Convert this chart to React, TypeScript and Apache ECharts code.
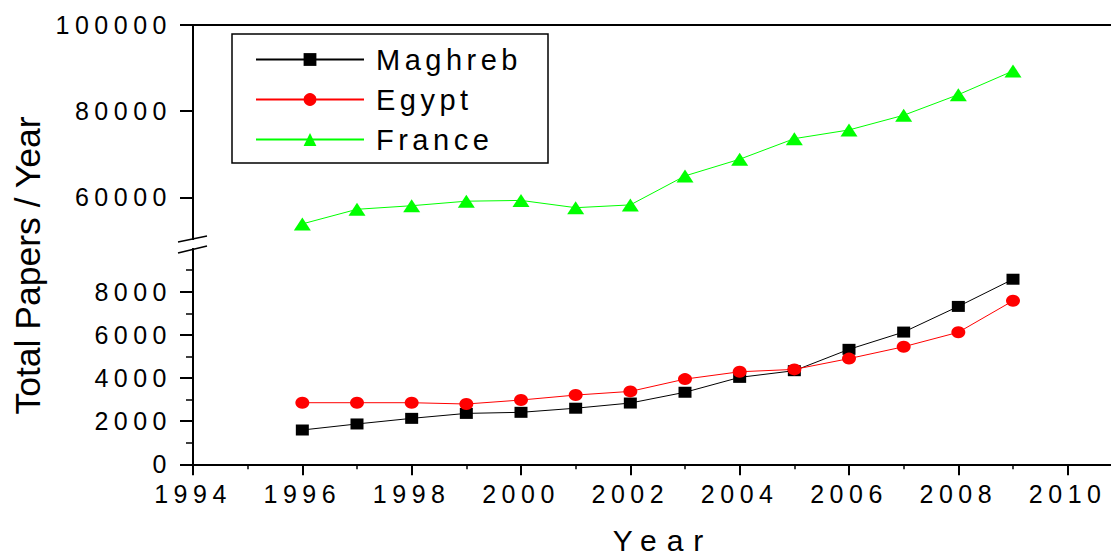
import React, { useEffect, useRef } from 'react';
import * as echarts from 'echarts';

const FONT = '"Liberation Sans", Arial, Helvetica, sans-serif';

const years = [1996, 1997, 1998, 1999, 2000, 2001, 2002, 2003, 2004, 2005, 2006, 2007, 2008, 2009];
const maghreb = [1590, 1870, 2130, 2360, 2410, 2600, 2840, 3340, 4030, 4340, 5330, 6130, 7320, 8580];
const egypt = [2855, 2855, 2855, 2795, 2980, 3210, 3380, 3950, 4290, 4400, 4900, 5450, 6120, 7580];
const france = [53830, 57220, 58050, 59100, 59280, 57590, 58240, 64970, 68840, 73620, 75640, 79050, 83830, 89330];

const seriesNames = ['Maghreb', 'Egypt', 'France'];
const xLabelValues = [1994, 1996, 1998, 2000, 2002, 2004, 2006, 2008, 2010];
const topMajorTicks = [60000, 80000, 100000];
const topMinorTicks = [70000, 90000];
const bottomMajorTicks = [0, 2000, 4000, 6000, 8000];
const xTitle = 'Year';
const yTitle = 'Total Papers / Year';

const css = `
#chartbox text[style*="25px"] { letter-spacing: 5.5px; }
#chartbox text[style*="29px"] { letter-spacing: 4.5px; }
#chartbox text[style*="30px"] { letter-spacing: 10px; }
`;

export default function App() {
  const ref = useRef<HTMLDivElement>(null);
  useEffect(() => {
    const chart = echarts.init(ref.current!, null, { renderer: 'svg' });
    const label = { color: '#000', fontSize: 25, fontFamily: FONT };
    const axisLine = { show: true, lineStyle: { color: '#000', width: 2 } };
    const pair = (vals: number[]) => years.map((y, i) => [y, vals[i]]);
    chart.setOption({
      animation: false,
      backgroundColor: '#fff',
      grid: [
        { left: 193, top: 25, width: 984, height: 215.4, containLabel: false, outerBoundsMode: 'none' },
        { left: 193, top: 248.6, width: 984, height: 215.7, containLabel: false, outerBoundsMode: 'none' },
      ],
      xAxis: [
        {
          type: 'value', gridIndex: 0, min: 1994, max: 2012, interval: 2, position: 'top',
          axisLine, axisTick: { show: false }, axisLabel: { show: false }, splitLine: { show: false },
        },
        {
          type: 'value', gridIndex: 1, min: 1994, max: 2012, interval: 2, position: 'bottom',
          axisLine,
          axisTick: { show: true, length: 11, lineStyle: { color: '#000', width: 2 } },
          minorTick: { show: true, splitNumber: 2, length: 5, lineStyle: { color: '#000', width: 1.5 } },
          axisLabel: { ...label, margin: 17, customValues: xLabelValues, formatter: (v: number) => String(v) },
          splitLine: { show: false },
        },
      ],
      yAxis: [
        {
          type: 'value', gridIndex: 0, min: 50000, max: 100000, interval: 10000,
          axisLine,
          axisTick: { show: true, length: 13, customValues: topMajorTicks, lineStyle: { color: '#000', width: 2 } },
          axisLabel: { ...label, margin: 21, customValues: topMajorTicks, formatter: (v: number) => String(v) },
          splitLine: { show: false },
        },
        {
          type: 'value', gridIndex: 0, min: 50000, max: 100000, interval: 10000,
          axisLine: { show: false },
          axisTick: { show: true, length: 7, customValues: topMinorTicks, lineStyle: { color: '#000', width: 1.5 } },
          axisLabel: { show: false },
          splitLine: { show: false },
        },
        {
          type: 'value', gridIndex: 1, min: 0, max: 10000, interval: 2000,
          axisLine,
          axisTick: { show: true, length: 13, customValues: bottomMajorTicks, lineStyle: { color: '#000', width: 2 } },
          minorTick: { show: true, splitNumber: 2, length: 7, lineStyle: { color: '#000', width: 1.5 } },
          axisLabel: { ...label, margin: 21, customValues: bottomMajorTicks, formatter: (v: number) => String(v) },
          splitLine: { show: false },
        },
      ],
      legend: {
        data: seriesNames,
        orient: 'vertical',
        left: 255,
        top: 45,
        padding: 0,
        itemWidth: 108,
        itemHeight: 16,
        itemGap: 11,
        textStyle: { color: '#000', fontSize: 29, fontFamily: FONT, padding: [0, 0, 0, 7] },
      },
      series: [
        {
          name: seriesNames[0], type: 'line', xAxisIndex: 1, yAxisIndex: 2,
          data: pair(maghreb), symbol: 'rect', symbolSize: [13, 11],
          itemStyle: { color: '#000000' }, lineStyle: { color: '#000000', width: 1 },
        },
        {
          name: seriesNames[1], type: 'line', xAxisIndex: 1, yAxisIndex: 2,
          data: pair(egypt), symbol: 'circle', symbolSize: [14, 12],
          itemStyle: { color: '#ff0000' }, lineStyle: { color: '#ff0000', width: 1 },
        },
        {
          name: seriesNames[2], type: 'line', xAxisIndex: 0, yAxisIndex: 0,
          data: pair(france), symbol: 'triangle', symbolSize: [17, 13],
          itemStyle: { color: '#00ff00' }, lineStyle: { color: '#00ff00', width: 1 },
        },
      ],
      graphic: [
        {
          type: 'rect', shape: { x: 232, y: 34, width: 316, height: 129 },
          style: { fill: 'none', stroke: '#000', lineWidth: 1.5 }, z: 10,
        },
        { type: 'rect', shape: { x: 185, y: 240, width: 16, height: 8 }, style: { fill: '#fff' }, z: 9 },
        {
          type: 'line', shape: { x1: 178, y1: 242, x2: 207, y2: 236 },
          style: { stroke: '#000', lineWidth: 1.5 }, z: 10,
        },
        {
          type: 'line', shape: { x1: 178, y1: 253, x2: 207, y2: 246 },
          style: { stroke: '#000', lineWidth: 1.5 }, z: 10,
        },
        {
          type: 'text', x: 28, y: 265.5, rotation: Math.PI / 2,
          style: { text: yTitle, font: `35.5px ${FONT}`, fill: '#000', textAlign: 'center', textVerticalAlign: 'middle' },
        },
        {
          type: 'text', x: 663, y: 540,
          style: { text: xTitle, font: `30px ${FONT}`, fill: '#000', textAlign: 'center', textVerticalAlign: 'middle' },
        },
      ],
    });
    return () => chart.dispose();
  }, []);
  return (
    <>
      <style>{css}</style>
      <div id="chartbox" ref={ref} style={{ position: 'absolute', left: 0, top: 0, width: 1111, height: 555 }} />
    </>
  );
}
